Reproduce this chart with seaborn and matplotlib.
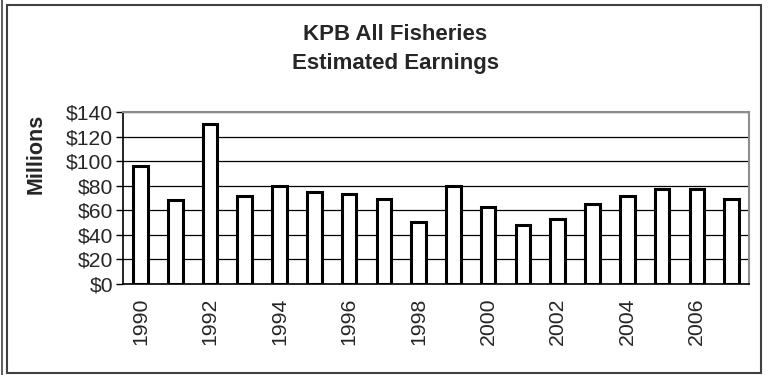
import matplotlib
matplotlib.use("Agg")
import matplotlib.pyplot as plt
import matplotlib.ticker as mticker
from matplotlib.patches import Rectangle
from matplotlib.lines import Line2D
import pandas as pd
import seaborn as sns

# data (millions of dollars)
YEARS = [str(y) for y in range(1990, 2008)]
EARNINGS = [96, 68, 130, 72, 79.5, 75, 73.5, 69, 50.5,
            79.5, 62.5, 48, 53, 65, 71.5, 77.5, 77, 69.5]
Y_TICKS = [0, 20, 40, 60, 80, 100, 120, 140]
LABEL_YEARS = [str(y) for y in range(1990, 2008, 2)]

sns.set_style("white")
plt.rcParams["font.family"] = ["Liberation Sans", "DejaVu Sans"]

df = pd.DataFrame({"year": YEARS, "earnings": EARNINGS})

fig = plt.figure(figsize=(7.69, 3.75), dpi=100)
ax = fig.add_axes([0.160, 0.2427, 0.814, 0.4586])

sns.barplot(data=df, x="year", y="earnings", color="white", saturation=1,
            edgecolor="black", linewidth=2.2, width=0.42, ax=ax)

ax.set_xlim(-0.5, len(YEARS) - 0.5)
ax.set_ylim(0, 140)
ax.set_yticks(Y_TICKS)
ax.yaxis.set_major_formatter(mticker.FuncFormatter(lambda v, p: f"${v:.0f}"))
ax.grid(axis="y", color="black", linewidth=0.9)
ax.set_axisbelow(True)

# year labels every other bar, ticks between categories
ax.set_xticks([YEARS.index(y) for y in LABEL_YEARS])
ax.set_xticklabels(LABEL_YEARS, rotation=90, fontsize=15.3)
ax.set_xticks([i - 0.5 for i in range(len(YEARS) + 1)], minor=True)
ax.tick_params(axis="x", which="major", length=0, pad=10)
ax.tick_params(axis="x", which="minor", length=5, width=1, color="black", direction="out")
ax.tick_params(axis="y", length=5, width=1, color="black", direction="out",
               labelsize=15.2, pad=2, left=True)
ax.set_xlabel("")
ax.set_ylabel("")

for side in ["top", "right"]:
    ax.spines[side].set_visible(True)
    ax.spines[side].set_color("#8c8c8c")
    ax.spines[side].set_linewidth(1.5)
for side in ["left", "bottom"]:
    ax.spines[side].set_color("black")
    ax.spines[side].set_linewidth(1.2)

fig.text(395 / 769, 1 - 35 / 375, "KPB All Fisheries", ha="center", va="center",
         fontsize=16, fontweight="bold")
fig.text(395 / 769, 1 - 63 / 375, "Estimated Earnings", ha="center", va="center",
         fontsize=16, fontweight="bold")
fig.text(36 / 769, 1 - 154 / 375, "Millions", rotation=90, ha="center", va="center",
         fontsize=15.5, fontweight="bold")

# chart area border
fig.patches.append(Rectangle((7 / 769, 1 - 373 / 375), 754 / 769, 368 / 375,
                             transform=fig.transFigure, fill=False,
                             edgecolor="#404040", linewidth=1.5))
fig.lines.append(Line2D([1.5 / 769, 1.5 / 769], [0, 1], transform=fig.transFigure,
                        color="#404040", linewidth=1.2))

fig.savefig("out.png", dpi=100, facecolor="white")
